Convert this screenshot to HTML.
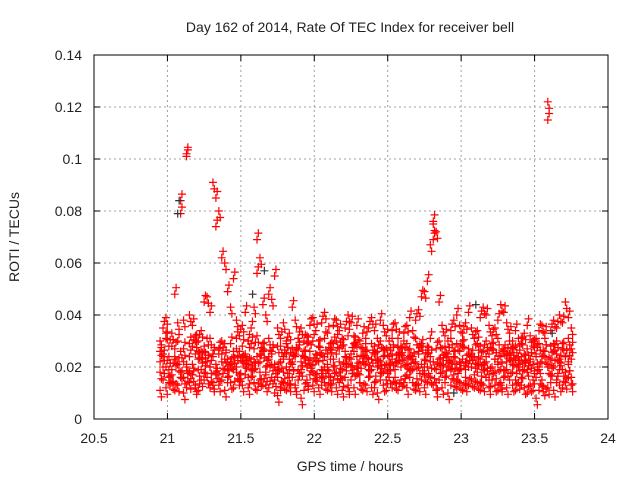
<!DOCTYPE html>
<html><head><meta charset="utf-8"><style>
body{margin:0;background:#fff}
svg text{font-family:"Liberation Sans",sans-serif;font-size:14px;fill:#222}
</style></head><body>
<svg id="chart" width="640" height="480" viewBox="0 0 640 480" xmlns="http://www.w3.org/2000/svg">
<rect width="640" height="480" fill="#fff"/>
<text x="350" y="32" text-anchor="middle">Day 162 of 2014, Rate Of TEC Index for receiver bell</text>
<text x="350" y="471" text-anchor="middle">GPS time / hours</text>
<text transform="translate(19,237) rotate(-90)" text-anchor="middle">ROTI / TECUs</text>
<g id="grid"></g>
<g id="ticks"></g>
<g id="points"></g>
<rect x="94" y="55" width="514" height="364" fill="none" stroke="#000" stroke-width="1"/>
</svg>
<script>
const xTicks=[20.5,21,21.5,22,22.5,23,23.5,24];
const xTickLabels=["20.5","21","21.5","22","22.5","23","23.5","24"];
const yTicks=[0,0.02,0.04,0.06,0.08,0.1,0.12,0.14];
const yTickLabels=["0","0.02","0.04","0.06","0.08","0.1","0.12","0.14"];
const times=[20.95,20.97,20.99,21.01,21.03,21.05,21.07,21.09,21.11,21.13,21.15,21.17,21.19,21.21,21.23,21.25,21.27,21.29,21.31,21.33,21.35,21.37,21.39,21.41,21.43,21.45,21.47,21.49,21.51,21.53,21.55,21.57,21.59,21.61,21.63,21.65,21.67,21.69,21.71,21.73,21.75,21.77,21.79,21.81,21.83,21.85,21.87,21.89,21.91,21.93,21.95,21.97,21.99,22.01,22.03,22.05,22.07,22.09,22.11,22.13,22.15,22.17,22.19,22.21,22.23,22.25,22.27,22.29,22.31,22.33,22.35,22.37,22.39,22.41,22.43,22.45,22.47,22.49,22.51,22.53,22.55,22.57,22.59,22.61,22.63,22.65,22.67,22.69,22.71,22.73,22.75,22.77,22.79,22.81,22.83,22.85,22.87,22.89,22.91,22.93,22.95,22.97,22.99,23.01,23.03,23.05,23.07,23.09,23.11,23.13,23.15,23.17,23.19,23.21,23.23,23.25,23.27,23.29,23.31,23.33,23.35,23.37,23.39,23.41,23.43,23.45,23.47,23.49,23.51,23.53,23.55,23.57,23.59,23.61,23.63,23.65,23.67,23.69,23.71,23.73,23.75];
const seriesA=[.018,.015,.012,.014,.017,.011,.013,.016,.010,.012,.014,.017,.013,.011,.015,.018,.016,.012,.014,.017,.013,.015,.011,.016,.014,.012,.018,.015,.013,.017,.012,.016,.014,.011,.015,.013,.017,.012,.016,.010,.009,.012,.014,.011,.013,.016,.012,.015,.008,.011,.014,.017,.013,.015,.012,.016,.014,.011,.013,.015,.012,.014,.011,.016,.013,.015,.012,.017,.014,.011,.013,.016,.012,.014,.010,.015,.013,.011,.016,.012,.014,.011,.015,.013,.012,.016,.014,.011,.013,.015,.012,.014,.016,.013,.011,.015,.012,.014,.010,.013,.015,.012,.014,.011,.016,.013,.015,.012,.014,.011,.013,.016,.012,.015,.013,.011,.014,.016,.012,.015,.013,.011,.014,.016,.012,.010,.013,.015,.008,.011,.013,.009,.012,.014,.011,.015,.013,.012,.014,.016,.013];
const seriesB=[.022,.025,.020,.024,.019,.023,.021,.026,.022,.020,.024,.021,.025,.019,.023,.026,.022,.020,.024,.021,.025,.022,.019,.023,.021,.024,.020,.026,.022,.025,.021,.023,.019,.024,.022,.026,.020,.023,.025,.021,.019,.022,.024,.020,.023,.021,.025,.019,.022,.024,.020,.023,.021,.025,.022,.019,.024,.021,.023,.020,.025,.022,.019,.024,.021,.023,.026,.020,.022,.024,.021,.019,.023,.025,.020,.022,.024,.021,.019,.023,.022,.025,.020,.023,.021,.024,.019,.022,.025,.021,.023,.020,.024,.022,.019,.023,.021,.025,.020,.022,.024,.021,.019,.023,.022,.025,.020,.024,.021,.023,.019,.022,.025,.020,.023,.021,.024,.019,.022,.025,.021,.023,.020,.024,.022,.019,.023,.021,.025,.020,.022,.024,.021,.023,.020,.025,.022,.019,.024,.021,.023];
const seriesC=[.030,.035,.039,.028,.033,.048,.037,.084,.038,.102,.040,.036,.032,.030,.034,.045,.047,.041,.091,.085,.080,.062,.060,.049,.043,.054,.038,.032,.036,.041,.030,.035,.043,.069,.062,.044,.040,.048,.046,.055,.035,.031,.037,.029,.033,.043,.038,.031,.035,.030,.032,.036,.039,.034,.030,.037,.041,.033,.029,.036,.038,.034,.031,.035,.040,.037,.032,.036,.030,.033,.029,.035,.039,.034,.031,.038,.036,.032,.030,.034,.037,.031,.028,.033,.036,.039,.034,.038,.042,.047,.049,.053,.067,.076,.072,.045,.036,.032,.030,.034,.038,.040,.036,.033,.037,.041,.035,.031,.034,.039,.043,.040,.036,.032,.035,.038,.044,.041,.037,.033,.030,.034,.031,.029,.033,.036,.032,.028,.031,.034,.036,.033,.122,.034,.038,.035,.040,.037,.045,.039,.035];
const seriesD=[.026,.020,.031,.016,.028,.024,.030,.018,.027,.021,.029,.017,.030,.026,.019,.028,.022,.031,.025,.018,.027,.030,.023,.019,.029,.026,.031,.017,.028,.024,.030,.019,.027,.032,.025,.029,.018,.031,.026,.020,.016,.028,.023,.030,.019,.027,.024,.031,.018,.026,.029,.021,.030,.017,.028,.025,.031,.019,.027,.023,.030,.018,.028,.026,.032,.020,.029,.024,.017,.027,.031,.023,.019,.028,.026,.030,.018,.027,.024,.031,.019,.028,.025,.030,.017,.027,.023,.031,.026,.029,.020,.028,.031,.075,.027,.030,.018,.028,.025,.031,.017,.029,.026,.030,.019,.027,.024,.031,.018,.028,.026,.030,.017,.029,.023,.031,.019,.027,.025,.030,.018,.028,.024,.031,.019,.027,.023,.030,.016,.029,.024,.031,.115,.028,.026,.030,.019,.029,.024,.031,.027];
const seriesE=[.011,.024,.033,.019,.014,.027,.021,.079,.016,.101,.018,.028,.012,.023,.026,.015,.031,.020,.013,.074,.017,.025,.029,.014,.022,.019,.027,.013,.024,.020,.016,.029,.022,.056,.018,.027,.013,.024,.021,.015,.028,.011,.018,.025,.016,.022,.013,.027,.019,.024,.015,.026,.018,.022,.028,.013,.020,.025,.016,.029,.018,.027,.015,.021,.012,.025,.019,.028,.014,.022,.026,.016,.029,.012,.023,.018,.027,.015,.021,.025,.016,.022,.027,.014,.029,.019,.024,.013,.020,.028,.017,.025,.022,.069,.014,.021,.027,.016,.024,.019,.026,.015,.022,.028,.013,.020,.025,.017,.029,.014,.021,.024,.015,.027,.018,.022,.013,.026,.019,.023,.027,.015,.021,.013,.025,.018,.022,.011,.024,.019,.015,.026,.020,.017,.029,.014,.023,.027,.018,.022,.016];
const darkTimes=[21.07,21.08,21.58,21.66,22.95,23.1,23.62];
const darkValues=[.079,.084,.048,.057,.010,.044,.033];

const NS="http://www.w3.org/2000/svg";
const X0=94,X1=608,Y0=419,Y1=55;
function xs(v){return X0+(v-20.5)/(24-20.5)*(X1-X0);}
function ys(v){return Y0-(v/0.14)*(Y0-Y1);}
const grid=document.getElementById('grid'),ticks=document.getElementById('ticks'),pts=document.getElementById('points');
function mk(tag,attrs,parent){const e=document.createElementNS(NS,tag);for(const k in attrs)e.setAttribute(k,attrs[k]);parent.appendChild(e);return e;}
xTicks.forEach((t,i)=>{const x=xs(t);
 if(i>0&&i<xTicks.length-1){const g=mk('line',{x1:x,x2:x,y1:Y1,y2:Y0,stroke:'#a0a0a0','stroke-dasharray':'2,3'},grid);
 
 }
 mk('line',{x1:x,x2:x,y1:Y0,y2:Y0-6,stroke:'#000'},ticks);
 mk('line',{x1:x,x2:x,y1:Y1,y2:Y1+6,stroke:'#000'},ticks);
 const tx=mk('text',{x:x,y:443,'text-anchor':'middle'},ticks);tx.textContent=xTickLabels[i];
 
 });
yTicks.forEach((t,i)=>{const y=ys(t);
 if(i>0&&i<yTicks.length-1){const g=mk('line',{x1:X0,x2:X1,y1:y,y2:y,stroke:'#a0a0a0','stroke-dasharray':'2,3'},grid);
 
 }
 mk('line',{x1:X0,x2:X0+6,y1:y,y2:y,stroke:'#000'},ticks);
 mk('line',{x1:X1,x2:X1-6,y1:y,y2:y,stroke:'#000'},ticks);
 const tx=mk('text',{x:82,y:y+5,'text-anchor':'end'},ticks);tx.textContent=yTickLabels[i];
 
 });
function plus(t,v,color){const x=xs(t),y=ys(v);
 const p=mk('path',{d:`M${x-4},${y}H${x+4}M${x},${y-4}V${y+4}`,stroke:color,'stroke-width':1.2,fill:'none'},pts);
 
 }
[seriesA,seriesB,seriesC,seriesD,seriesE].forEach((s,k)=>s.forEach((v,i)=>{plus(times[i],v,'#ff0000');const sg=((i+k)%2)?1:-1;plus(times[i]+0.009,v+sg*0.0025,'#ff0000');}));
darkTimes.forEach((t,i)=>plus(t,darkValues[i],'#333'));
</script>
</body></html>
